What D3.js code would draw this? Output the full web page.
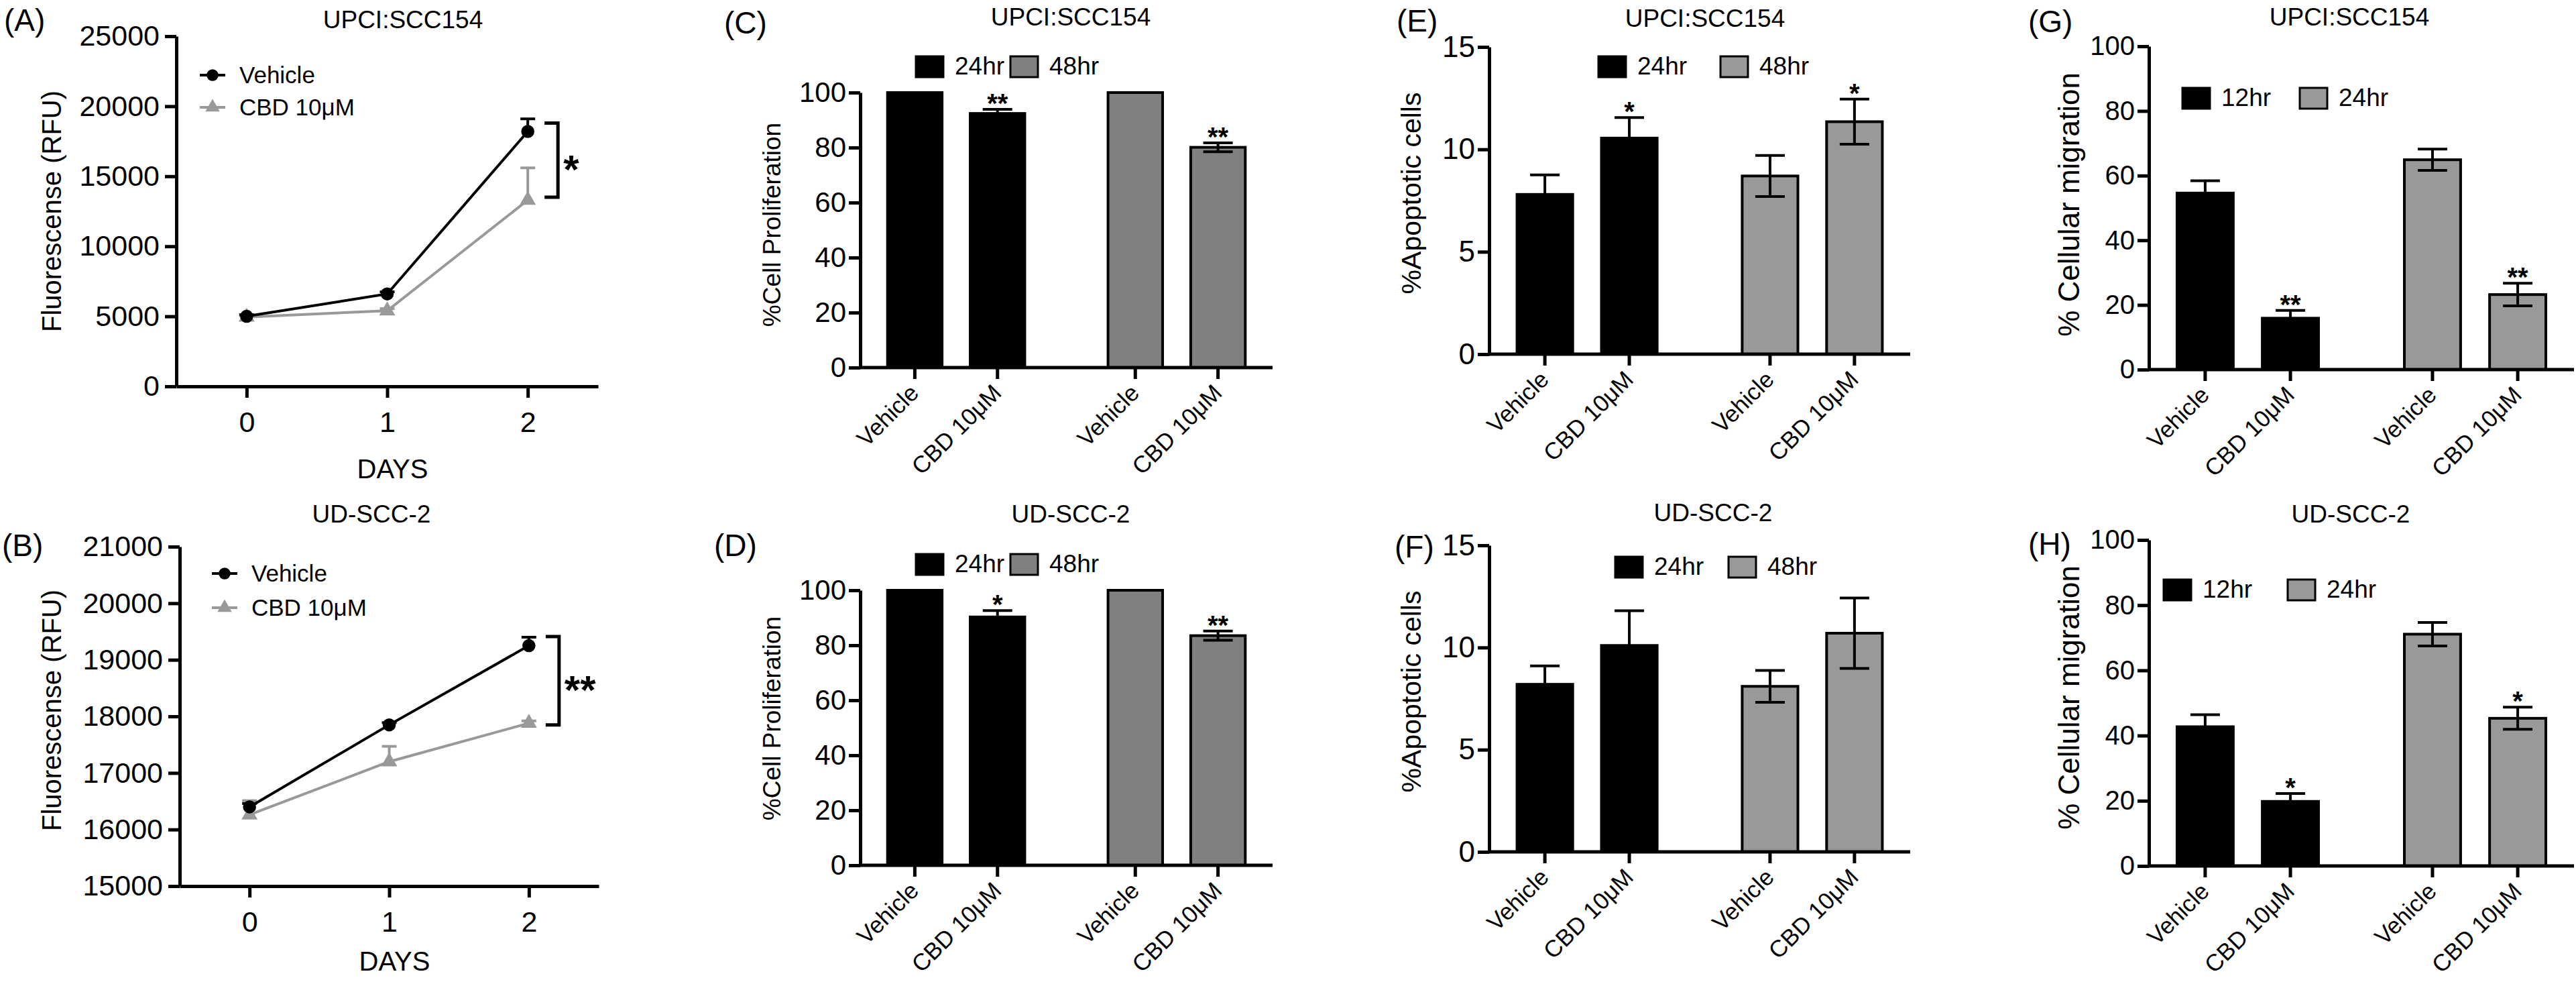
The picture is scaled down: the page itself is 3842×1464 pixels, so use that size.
<!DOCTYPE html>
<html>
<head>
<meta charset="utf-8">
<script src="https://cdn.jsdelivr.net/npm/d3@7"></script>
<style>
  body { margin: 0; background: #fff; }
  svg { display: block; background: #fff; }
</style>
</head>
<body>
<svg id="fig" width="3842" height="1464"></svg>
<script>
// ---- data ----
const days = [0, 1, 2];
const lineSeries = ["Vehicle", "CBD 10μM"];

// (A) UPCI:SCC154 fluorescence
const fluorVehicleA = [5000, 6600, 18200];
const fluorVehicleAErr = [120, 150, 900];
const fluorCbdA = [4950, 5400, 13300];
const fluorCbdAErr = [100, 150, 2300];
const fluorTicksA = [0, 5000, 10000, 15000, 20000, 25000];
const bracketA = [18800, 13500];

// (B) UD-SCC-2 fluorescence
const fluorVehicleB = [16400, 17850, 19250];
const fluorVehicleBErr = [60, 40, 150];
const fluorCbdB = [16260, 17200, 17880];
const fluorCbdBErr = [250, 270, 40];
const fluorTicksB = [15000, 16000, 17000, 18000, 19000, 20000, 21000];
const bracketB = [19410, 17850];

const treatments = ["Vehicle", "CBD 10μM"];

// (C)(D) proliferation, rows = 24hr, 48hr ; cols = Vehicle, CBD
const prolifTimes = ["24hr", "48hr"];
const prolifC = [[100, 92.4], [100, 80.1]];
const prolifCErr = [[0, 1.5], [0, 1.6]];
const prolifCStars = [["", "**"], ["", "**"]];
const prolifD = [[100, 90.3], [100, 83.5]];
const prolifDErr = [[0, 2.3], [0, 1.7]];
const prolifDStars = [["", "*"], ["", "**"]];
const prolifTicks = [0, 20, 40, 60, 80, 100];

// (E)(F) apoptosis
const apopTimes = ["24hr", "48hr"];
const apopE = [[7.8, 10.55], [8.7, 11.35]];
const apopEErr = [[0.95, 1.0], [1.0, 1.1]];
const apopEStars = [["", "*"], ["", "*"]];
const apopF = [[8.2, 10.1], [8.1, 10.7]];
const apopFErr = [[0.9, 1.7], [0.78, 1.72]];
const apopFStars = [["", ""], ["", ""]];
const apopTicks = [0, 5, 10, 15];

// (G)(H) migration
const migTimes = ["12hr", "24hr"];
const migG = [[54.6, 15.9], [64.9, 23.2]];
const migGErr = [[3.8, 2.4], [3.3, 3.5]];
const migGStars = [["", "**"], ["", "**"]];
const migH = [[42.7, 19.8], [71.1, 45.3]];
const migHErr = [[3.7, 2.4], [3.6, 3.4]];
const migHStars = [["", "*"], ["", "*"]];
const migTicks = [0, 20, 40, 60, 80, 100];

const FONT = '"Liberation Sans", Arial, Helvetica, sans-serif';
const svg = d3.select("#fig").style("font-family", FONT);

function txt(g, x, y, s, size, anchor) {
    return g.append("text")
        .attr("x", x).attr("y", y)
        .attr("text-anchor", anchor || "start")
        .attr("font-size", size)
        .attr("fill", "#000")
        .text(s);
}

function styleAxis(g, size) {
    g.attr("font-family", FONT).attr("font-size", size);
    g.selectAll("path.domain").attr("stroke", "#000").attr("stroke-width", 5);
    g.selectAll(".tick line").attr("stroke", "#000").attr("stroke-width", 5);
    g.selectAll(".tick text").attr("fill", "#000");
}

// ---- line panels (A, B) ----
function linePanel(p) {
    const g = svg.append("g");
    const x = d3.scaleLinear().domain([-0.5, 2.5]).range([p.x0, p.x1]);
    const y = d3.scaleLinear().domain(p.domain).range([p.yBot, p.yTop]);

    g.append("g").attr("transform", `translate(0,${p.yBot})`)
        .call(d3.axisBottom(x).tickValues(days).tickFormat(d3.format("d"))
            .tickSize(17).tickSizeOuter(0).tickPadding(20))
        .call(a => styleAxis(a, 43));
    g.append("g").attr("transform", `translate(${p.x0},0)`)
        .call(d3.axisLeft(y).tickValues(p.ticks).tickFormat(d3.format("d"))
            .tickSize(17).tickSizeOuter(0).tickPadding(8))
        .call(a => styleAxis(a, 43));

    const series = [
        {name: lineSeries[1], vals: p.cbd, err: p.cbdErr, color: "#999999", sym: d3.symbolTriangle, size: 250},
        {name: lineSeries[0], vals: p.veh, err: p.vehErr, color: "#000000", sym: d3.symbolCircle, size: 300}
    ];
    const line = d3.line().x((d, i) => x(days[i])).y(d => y(d));
    series.forEach(s => {
        g.append("path").attr("d", line(s.vals))
            .attr("fill", "none").attr("stroke", s.color).attr("stroke-width", 4);
        s.vals.forEach((v, i) => {
            const cx = x(days[i]), top = y(v + s.err[i]);
            g.append("line").attr("x1", cx).attr("x2", cx).attr("y1", y(v)).attr("y2", top)
                .attr("stroke", s.color).attr("stroke-width", 4);
            g.append("line").attr("x1", cx - 11).attr("x2", cx + 11).attr("y1", top).attr("y2", top)
                .attr("stroke", s.color).attr("stroke-width", 4);
        });
        g.selectAll(null).data(s.vals).join("path")
            .attr("d", d3.symbol(s.sym, s.size))
            .attr("transform", (d, i) => `translate(${x(days[i])},${y(d)})`)
            .attr("fill", s.color);
    });

    // significance bracket
    const bx = x(2) + 45, b0 = y(p.bracket[0]), b1 = y(p.bracket[1]);
    g.append("path").attr("d", `M${bx - 20},${b0}H${bx}V${b1}H${bx - 20}`)
        .attr("fill", "none").attr("stroke", "#000").attr("stroke-width", 5);
    txt(g, bx + 8, (b0 + b1) / 2 + 34, p.star, 60).attr("font-weight", "bold");

    // legend
    series.slice().reverse().forEach((s, i) => {
        const ly = p.legY[i];
        g.append("line").attr("x1", p.legX - 19).attr("x2", p.legX + 19).attr("y1", ly).attr("y2", ly)
            .attr("stroke", s.color).attr("stroke-width", 4);
        g.append("path").attr("d", d3.symbol(s.sym, s.size * 0.8)).attr("transform", `translate(${p.legX},${ly})`)
            .attr("fill", s.color);
        txt(g, p.legX + 40, ly + 12, s.name, 35);
    });

    txt(g, x(1) + 8, p.daysY, "DAYS", 40, "middle");
    txt(g, 0, 0, p.ylabel, 40, "middle")
        .attr("transform", `translate(${p.ylx},${p.yly}) rotate(-90)`).attr("dy", "0.35em");
    txt(g, p.title[0], p.title[1], p.titleText, 37, "middle");
    txt(g, p.letter[0], p.letter[1], p.letterText, 46);
}

linePanel({
    x0: 263, x1: 892, yTop: 54, yBot: 576, domain: [0, 25000], ticks: fluorTicksA,
    veh: fluorVehicleA, vehErr: fluorVehicleAErr, cbd: fluorCbdA, cbdErr: fluorCbdAErr,
    bracket: bracketA, star: "*", legX: 317, legY: [112, 160], daysY: 713,
    ylabel: "Fluorescense (RFU)", ylx: 77, yly: 315,
    title: [601, 42], titleText: "UPCI:SCC154", letter: [6, 46], letterText: "(A)"
});
linePanel({
    x0: 268, x1: 893, yTop: 815, yBot: 1321, domain: [15000, 21000], ticks: fluorTicksB,
    veh: fluorVehicleB, vehErr: fluorVehicleBErr, cbd: fluorCbdB, cbdErr: fluorCbdBErr,
    bracket: bracketB, star: "**", legX: 335, legY: [855, 906], daysY: 1447,
    ylabel: "Fluorescense (RFU)", ylx: 77, yly: 1059,
    title: [554, 779], titleText: "UD-SCC-2", letter: [3, 829], letterText: "(B)"
});

// ---- bar panels (C - H) ----
function barPanel(p) {
    const g = svg.append("g");
    const outer = d3.scaleBand().domain(p.times).range([p.x0, p.x1]).paddingInner(0.25).paddingOuter(0.06);
    const inner = d3.scaleBand().domain(treatments).range([0, outer.bandwidth()]).paddingInner(0.34).paddingOuter(0.17);
    const y = d3.scaleLinear().domain([0, d3.max(p.ticks)]).range([p.yBot, p.yTop]);

    const bars = p.times.flatMap((t, i) => treatments.map((tr, j) => ({
        time: t, tr: tr, ti: i, v: p.vals[i][j], e: p.err[i][j], star: p.stars[i][j]
    })));
    const bx = d => outer(d.time) + inner(d.tr);
    const bc = d => bx(d) + inner.bandwidth() / 2;

    g.selectAll(null).data(bars).join("rect")
        .attr("x", bx).attr("width", inner.bandwidth())
        .attr("y", d => y(d.v)).attr("height", d => p.yBot - y(d.v))
        .attr("fill", d => p.colors[d.ti]).attr("stroke", "#000").attr("stroke-width", 4);

    const eb = bars.filter(d => d.e > 0);
    g.selectAll(null).data(eb).join("line")
        .attr("x1", bc).attr("x2", bc).attr("y1", d => y(d.v - d.e)).attr("y2", d => y(d.v + d.e))
        .attr("stroke", "#000").attr("stroke-width", 4);
    [1, -1].forEach(sgn => {
        g.selectAll(null).data(eb).join("line")
            .attr("x1", d => bc(d) - 22).attr("x2", d => bc(d) + 22)
            .attr("y1", d => y(d.v + sgn * d.e)).attr("y2", d => y(d.v + sgn * d.e))
            .attr("stroke", "#000").attr("stroke-width", 4);
    });
    g.selectAll(null).data(bars.filter(d => d.star)).join("text")
        .attr("x", bc).attr("y", d => y(d.v + d.e) + 5)
        .attr("text-anchor", "middle").attr("font-size", 40).attr("font-weight", "bold")
        .text(d => d.star);

    // axes
    g.append("g").attr("transform", `translate(${p.x0},0)`)
        .call(d3.axisLeft(y).tickValues(p.ticks).tickSize(17).tickSizeOuter(0).tickPadding(4))
        .call(a => styleAxis(a, p.tickFont));
    g.append("line").attr("x1", p.x0).attr("x2", p.x1).attr("y1", p.yBot).attr("y2", p.yBot)
        .attr("stroke", "#000").attr("stroke-width", 5);
    g.selectAll(null).data(bars).join("line")
        .attr("x1", bc).attr("x2", bc).attr("y1", p.yBot).attr("y2", p.yBot + 17)
        .attr("stroke", "#000").attr("stroke-width", 5);
    g.selectAll(null).data(bars).join("text")
        .attr("transform", d => `translate(${bc(d) + 8},${p.yBot + 40}) rotate(-45)`)
        .attr("text-anchor", "end").attr("font-size", 35)
        .text(d => d.tr);

    // legend
    p.times.forEach((t, i) => {
        g.append("rect").attr("x", p.legX[i]).attr("y", p.legY).attr("width", 41).attr("height", 31)
            .attr("fill", p.colors[i]).attr("stroke", "#000").attr("stroke-width", 3);
        txt(g, p.legX[i] + 58, p.legY + 27, t, 37);
    });

    txt(g, 0, 0, p.ylabel, p.ylFont, "middle")
        .attr("transform", `translate(${p.ylx},${p.yly}) rotate(-90)`).attr("dy", "0.35em");
    txt(g, p.title[0], p.title[1], p.titleText, 37, "middle");
    txt(g, p.letter[0], p.letter[1], p.letterText, 46);
}

barPanel({
    x0: 1283, x1: 1898, yTop: 138, yBot: 548, ticks: prolifTicks, times: prolifTimes,
    vals: prolifC, err: prolifCErr, stars: prolifCStars, colors: ["#000000", "#808080"],
    tickFont: 42, legX: [1366, 1507], legY: 84,
    ylabel: "%Cell Proliferation", ylFont: 37, ylx: 1151, yly: 335,
    title: [1597, 38], titleText: "UPCI:SCC154", letter: [1080, 50], letterText: "(C)"
});
barPanel({
    x0: 1283, x1: 1898, yTop: 880, yBot: 1290, ticks: prolifTicks, times: prolifTimes,
    vals: prolifD, err: prolifDErr, stars: prolifDStars, colors: ["#000000", "#808080"],
    tickFont: 42, legX: [1366, 1507], legY: 826,
    ylabel: "%Cell Proliferation", ylFont: 37, ylx: 1151, yly: 1071,
    title: [1597, 779], titleText: "UD-SCC-2", letter: [1065, 829], letterText: "(D)"
});
barPanel({
    x0: 2221, x1: 2849, yTop: 70, yBot: 528, ticks: apopTicks, times: apopTimes,
    vals: apopE, err: apopEErr, stars: apopEStars, colors: ["#000000", "#999999"],
    tickFont: 44, legX: [2384, 2566], legY: 84,
    ylabel: "%Apoptotic cells", ylFont: 41, ylx: 2105, yly: 288,
    title: [2543, 40], titleText: "UPCI:SCC154", letter: [2083, 47], letterText: "(E)"
});
barPanel({
    x0: 2221, x1: 2849, yTop: 813, yBot: 1270, ticks: apopTicks, times: apopTimes,
    vals: apopF, err: apopFErr, stars: apopFStars, colors: ["#000000", "#999999"],
    tickFont: 44, legX: [2409, 2578], legY: 830,
    ylabel: "%Apoptotic cells", ylFont: 41, ylx: 2105, yly: 1031,
    title: [2555, 777], titleText: "UD-SCC-2", letter: [2080, 831], letterText: "(F)"
});
barPanel({
    x0: 3205, x1: 3839, yTop: 69, yBot: 551, ticks: migTicks, times: migTimes,
    vals: migG, err: migGErr, stars: migGStars, colors: ["#000000", "#999999"],
    tickFont: 40, legX: [3255, 3430], legY: 131,
    ylabel: "% Cellular migration", ylFont: 44, ylx: 3086, yly: 305,
    title: [3504, 38], titleText: "UPCI:SCC154", letter: [3025, 48], letterText: "(G)"
});
barPanel({
    x0: 3205, x1: 3839, yTop: 805, yBot: 1291, ticks: migTicks, times: migTimes,
    vals: migH, err: migHErr, stars: migHStars, colors: ["#000000", "#999999"],
    tickFont: 40, legX: [3227, 3412], legY: 864,
    ylabel: "% Cellular migration", ylFont: 44, ylx: 3086, yly: 1040,
    title: [3506, 779], titleText: "UD-SCC-2", letter: [3025, 827], letterText: "(H)"
});
</script>
</body>
</html>
